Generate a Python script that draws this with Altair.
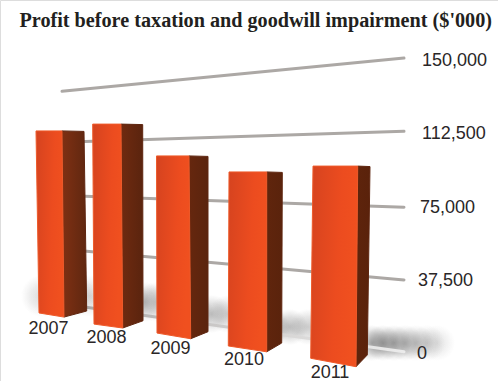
import altair as alt
import pandas as pd

years = ["2007", "2008", "2009", "2010", "2011"]
tick_labels = ["150,000", "112,500", "75,000", "37,500", "0"]
tick_values = [150000, 112500, 75000, 37500, 0]

# Levels on the value axis, where each column's top and foot sit in perspective
top_level = [113700, 117200, 100900, 92700, 95700]
foot_left = [20500, 14800, 10200, 3600, -2700]
foot_mid = [18400, 12800, 7300, 600, -7000]
foot_back = [21500, 16500, 10900, 5100, -1000]

# Where each gridline meets the left and right of the floor, in value-axis levels
grid_left = [134000, 108000, 80500, 52900, 24600]
grid_right = [151000, 113500, 74600, 37400, 600]

W, H = 498, 381
PX = 512.0  # value units per pixel
x_scale = alt.Scale(domain=[0, W], range=[0, W])
y_scale = alt.Scale(domain=[(353 - H) * PX, 353 * PX], range=[H, 0])
X = lambda f="x": alt.X(f"{f}:Q", scale=x_scale, axis=None)
Y = lambda f="y": alt.Y(f"{f}:Q", scale=y_scale, axis=None)

# Horizontal layout of the columns
left_edge = [36, 92.7, 156.5, 229, 313]
left_foot = [39, 94, 157, 228.3, 310.7]
mid_edge = [62, 121, 189, 266.7, 357.7]
mid_foot = [64, 122.7, 190.7, 266.7, 356]
back_edge = [84, 142.7, 208, 282.3, 370]
back_foot = [86.7, 143, 208, 281.7, 367.3]

front_fill = alt.Gradient(
    gradient="linear", x1=0, y1=0, x2=1, y2=0.25,
    stops=[
        alt.GradientStop(offset=0, color="#d5431f"),
        alt.GradientStop(offset=0.65, color="#ec4c1f"),
        alt.GradientStop(offset=1, color="#f0501f"),
    ],
)
side_fill = [
    alt.Gradient(
        gradient="linear", x1=0, y1=0, x2=1, y2=0,
        stops=[
            alt.GradientStop(offset=0, color=a),
            alt.GradientStop(offset=1, color=b),
        ],
    )
    for a, b in [("#7f3013", "#5f2710"), ("#6f2a10", "#5a240e"), ("#66270e", "#5a240e"),
                 ("#60250d", "#5a230c"), ("#5e240c", "#5a220b")]
]


def soft_spot(cx, cy, r, alpha):
    """A round, soft grey spot; chains of them build the floor shadows."""
    frame = pd.DataFrame([{
        "x": cx - r, "x2": cx + r,
        "y": (353 - (cy - r)) * PX, "y2": (353 - (cy + r)) * PX,
    }])
    fill = alt.Gradient(
        gradient="radial", x1=0.5, y1=0.5, r1=0, x2=0.5, y2=0.5, r2=0.5,
        stops=[
            alt.GradientStop(offset=0, color=f"rgba(70,70,70,{alpha})"),
            alt.GradientStop(offset=0.55, color=f"rgba(85,85,85,{alpha * 0.55})"),
            alt.GradientStop(offset=1, color="rgba(110,110,110,0)"),
        ],
    )
    return alt.Chart(frame).mark_rect(fill=fill).encode(x=X(), x2="x2:Q", y=Y(), y2="y2:Q")


# Shadow chains: (centres along x, centre y, radius, strength per spot)
shadow_chains = [
    ([42, 58, 74, 90], 296, 21, [0.2, 0.22, 0.22, 0.2]),
    ([110, 130, 145, 157], 302, 20, [0.25, 0.3, 0.3, 0.25]),
    ([175, 195, 212, 228], 314, 19, [0.3, 0.32, 0.32, 0.25]),
    ([250, 272, 290, 308], 327, 18, [0.35, 0.36, 0.36, 0.28]),
    ([372, 383, 394, 405, 416, 427, 437], 343, 18, [0.42, 0.42, 0.38, 0.32, 0.26, 0.2, 0.14]),
]
layers = []
for xs, cy, r, strengths in shadow_chains:
    for cx, a in zip(xs, strengths):
        layers.append(soft_spot(cx, cy, r, a))

# Receding gridlines
grid_start, grid_end = 70, 404
for i, (a, b) in enumerate(zip(grid_left, grid_right)):
    frame = pd.DataFrame({"x": [62 if i == 0 else grid_start, grid_end], "y": [a, b]})
    stroke = "#aca8a5"
    if i == 4:
        stroke = alt.Gradient(
            gradient="linear", x1=0, y1=0, x2=1, y2=0,
            stops=[
                alt.GradientStop(offset=0, color="#a5a3a2"),
                alt.GradientStop(offset=0.5, color="#d0cecd"),
                alt.GradientStop(offset=1, color="#ebebeb"),
            ],
        )
    layers.append(
        alt.Chart(frame).mark_line(stroke=stroke, strokeWidth=3, strokeCap="round").encode(x=X(), y=Y())
    )

# Columns: a lit front face and a dark side face
for i in range(len(years)):
    front_poly = pd.DataFrame({
        "x": [left_edge[i], left_foot[i], mid_foot[i], mid_edge[i], left_edge[i]],
        "y": [top_level[i], foot_left[i], foot_mid[i], top_level[i], top_level[i]],
        "o": [0, 1, 2, 3, 4],
    })
    side_poly = pd.DataFrame({
        "x": [mid_edge[i], mid_foot[i], back_foot[i], back_edge[i], mid_edge[i]],
        "y": [top_level[i], foot_mid[i], foot_back[i], top_level[i] - 250, top_level[i]],
        "o": [0, 1, 2, 3, 4],
    })
    layers.append(
        alt.Chart(side_poly).mark_line(
            fill=side_fill[i], stroke="#5f2610", strokeWidth=1, strokeJoin="round", interpolate="linear"
        ).encode(x=X(), y=Y(), order="o:Q")
    )
    layers.append(
        alt.Chart(front_poly).mark_line(
            fill=front_fill, stroke="#ee5a2a", strokeWidth=1, strokeJoin="round", interpolate="linear"
        ).encode(x=X(), y=Y(), order="o:Q")
    )

# Year labels below each column
year_frame = pd.DataFrame({
    "label": years,
    "x": [48.5, 106.5, 170.5, 244, 330],
    "y": [(353 - v) * PX for v in [328, 337, 348, 359, 371.5]],
})
# Value labels that follow the receding right edge
tick_frame = pd.DataFrame({
    "label": tick_labels,
    "x": [422, 422, 420, 418, 417],
    "y": tick_values,
})
text_style = dict(font="Liberation Sans", fontSize=18, color="#2a2627", baseline="middle", dy=1)
layers.append(
    alt.Chart(year_frame).mark_text(align="center", **text_style).encode(x=X(), y=Y(), text="label:N")
)
layers.append(
    alt.Chart(tick_frame).mark_text(align="left", **text_style).encode(x=X(), y=Y(), text="label:N")
)

chart = (
    alt.layer(*layers)
    .properties(
        width=W,
        height=H,
        padding=0,
        autosize=alt.AutoSizeParams(type="none"),
        title=alt.TitleParams(
            "Profit before taxation and goodwill impairment ($'000)",
            font="Liberation Serif",
            fontSize=20.2,
            fontWeight="bold",
            color="#231f20",
            anchor="start",
            frame="group",
            dx=19.5,
            dy=35,
        ),
    )
    .configure_view(stroke=None)
    .configure(background="white")
)
chart.save("out.html", embed_options={"renderer": "svg", "actions": False})
